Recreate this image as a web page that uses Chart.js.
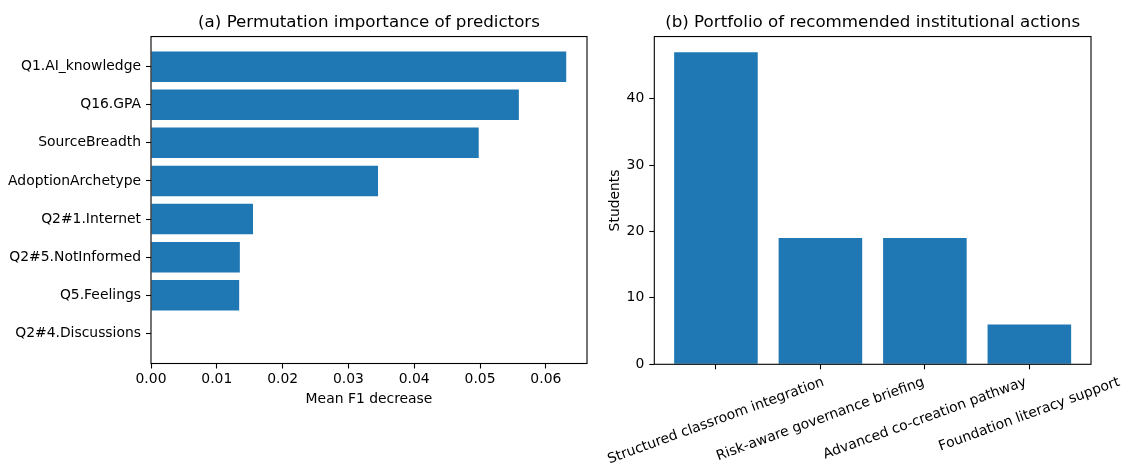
<!DOCTYPE html>
<html>
<head>
<meta charset="utf-8">
<script src="https://cdn.jsdelivr.net/npm/chart.js@4.4.1/dist/chart.umd.min.js"></script>
<style>
  html, body { margin: 0; padding: 0; background: #fff; }
  #wrap { position: relative; width: 1121px; height: 464px; overflow: hidden; }
  canvas { position: absolute; top: 0; }
  #left { left: 0; }
  #right { left: 600px; }
</style>
</head>
<body>
<div id="wrap">
  <canvas id="left" width="600" height="464"></canvas>
  <canvas id="right" width="521" height="464"></canvas>
</div>
<script>
// Predictor importance (mean F1 decrease under permutation)
const predictors = ['Q1.AI_knowledge', 'Q16.GPA', 'SourceBreadth', 'AdoptionArchetype',
                    'Q2#1.Internet', 'Q2#5.NotInformed', 'Q5.Feelings', 'Q2#4.Discussions'];
const importance = [0.0631, 0.0559, 0.0498, 0.0345, 0.0155, 0.0135, 0.0134, 0.0];
const importanceTicks = [0, 0.01, 0.02, 0.03, 0.04, 0.05, 0.06];

// Recommended institutional actions (number of students)
const actions = ['Structured classroom integration', 'Risk-aware governance briefing',
                 'Advanced co-creation pathway', 'Foundation literacy support'];
const students = [47, 19, 19, 6];
const studentTicks = [0, 10, 20, 30, 40];

const BLUE = '#1f77b4';
const FONT = 'DejaVu Sans';
const TICK_SIZE = 13.9;
const TITLE_SIZE = 16.7;

Chart.defaults.font.family = FONT;
Chart.defaults.font.size = TICK_SIZE;
Chart.defaults.color = '#000';
Chart.defaults.animation = false;
Chart.defaults.events = [];
Chart.defaults.plugins.legend.display = false;
Chart.defaults.plugins.tooltip.enabled = false;

// Axes frame drawn on top of the bars
const framePlugin = {
  id: 'frame',
  afterDraw(chart) {
    const a = chart.chartArea, ctx = chart.ctx;
    ctx.save();
    ctx.strokeStyle = '#000';
    ctx.lineWidth = 1.1;
    ctx.strokeRect(a.left, a.top, a.right - a.left, a.bottom - a.top);
    ctx.restore();
  }
};

const tickGrid = { offset: false, drawOnChartArea: false, drawTicks: true, tickLength: 5,
                   tickColor: '#000', tickWidth: 1.1, color: '#000' };
const titleOpts = (text) => ({
  display: true, text, fullSize: false, color: '#000',
  font: { family: FONT, size: TITLE_SIZE, weight: 'normal', lineHeight: 1.2 },
  padding: { top: 12.3, bottom: 4.2 }
});
const fixedTicks = (values) => (scale) => { scale.ticks = values.map(v => ({ value: v })); };

// (a) horizontal bars
const nPred = predictors.length;
const yPad = (nPred - 1 + 0.8) * 0.05;
new Chart(document.getElementById('left'), {
  type: 'bar',
  data: {
    datasets: [{
      data: importance.map((v, i) => ({ x: v, y: i })),
      backgroundColor: BLUE,
      borderWidth: 0,
      barPercentage: 0.8,
      categoryPercentage: 1.0
    }]
  },
  options: {
    responsive: false,
    indexAxis: 'y',
    layout: { padding: { left: 0, right: 13, top: 0, bottom: 0 } },
    plugins: { title: titleOpts('(a) Permutation importance of predictors') },
    scales: {
      x: {
        type: 'linear',
        offset: false,
        min: 0,
        max: Math.max(...importance) * 1.05,
        afterBuildTicks: fixedTicks(importanceTicks),
        afterFit: (s) => { s.height = 100.5; },
        border: { display: false },
        grid: tickGrid,
        ticks: { padding: 3, maxRotation: 0, callback: (v) => Number(v).toFixed(2) },
        title: { display: true, text: 'Mean F1 decrease', color: '#000',
                 font: { size: TICK_SIZE, lineHeight: 1.2 }, padding: { top: 0, bottom: 56 } }
      },
      y: {
        type: 'linear',
        offset: false,
        reverse: true,
        min: -0.4 - yPad,
        max: nPred - 1 + 0.4 + yPad,
        afterBuildTicks: fixedTicks(predictors.map((_, i) => i)),
        afterFit: (s) => { s.width = 151; },
        border: { display: false },
        grid: tickGrid,
        ticks: { padding: 5, callback: (v) => predictors[v] }
      }
    }
  },
  plugins: [framePlugin]
});

// (b) vertical bars with rotated category labels
const nAct = actions.length;
const xPad = (nAct - 1 + 0.8) * 0.05;
const rotatedLabels = {
  id: 'rotatedLabels',
  afterDraw(chart) {
    const ctx = chart.ctx, xs = chart.scales.x;
    const ang = 20 * Math.PI / 180;
    const h = TICK_SIZE * 1.17;
    const top = chart.chartArea.bottom + 4.9 + 4.9;
    ctx.save();
    ctx.font = `${TICK_SIZE}px "${FONT}"`;
    ctx.fillStyle = '#000';
    ctx.textAlign = 'center';
    ctx.textBaseline = 'middle';
    actions.forEach((label, i) => {
      const w = ctx.measureText(label).width;
      const boxH = w * Math.sin(ang) + h * Math.cos(ang);
      const cx = xs.getPixelForValue(i);
      const cy = top + boxH / 2;
      ctx.save();
      ctx.translate(cx, cy);
      ctx.rotate(-ang);
      ctx.fillText(label, 0, 0);
      ctx.restore();
    });
    ctx.restore();
  }
};

new Chart(document.getElementById('right'), {
  type: 'bar',
  data: {
    datasets: [{
      data: students.map((v, i) => ({ x: i, y: v })),
      backgroundColor: BLUE,
      borderWidth: 0,
      barPercentage: 0.8,
      categoryPercentage: 1.0
    }]
  },
  options: {
    responsive: false,
    layout: { padding: { left: 0, right: 30, top: 0, bottom: 0 } },
    plugins: { title: titleOpts('(b) Portfolio of recommended institutional actions') },
    scales: {
      x: {
        type: 'linear',
        offset: false,
        min: -0.4 - xPad,
        max: nAct - 1 + 0.4 + xPad,
        afterBuildTicks: fixedTicks(actions.map((_, i) => i)),
        afterFit: (s) => { s.height = 99.7; },
        border: { display: false },
        grid: tickGrid,
        ticks: { maxRotation: 0, callback: () => '' }
      },
      y: {
        type: 'linear',
        offset: false,
        min: 0,
        max: Math.max(...students) * 1.05,
        afterBuildTicks: fixedTicks(studentTicks),
        afterFit: (s) => { s.width = 54.3; },
        border: { display: false },
        grid: tickGrid,
        ticks: { padding: 5 },
        title: { display: true, text: 'Students', color: '#000',
                 font: { size: TICK_SIZE, lineHeight: 1.2 }, padding: { top: 7, bottom: 0 } }
      }
    }
  },
  plugins: [framePlugin, rotatedLabels]
});
</script>
</body>
</html>
